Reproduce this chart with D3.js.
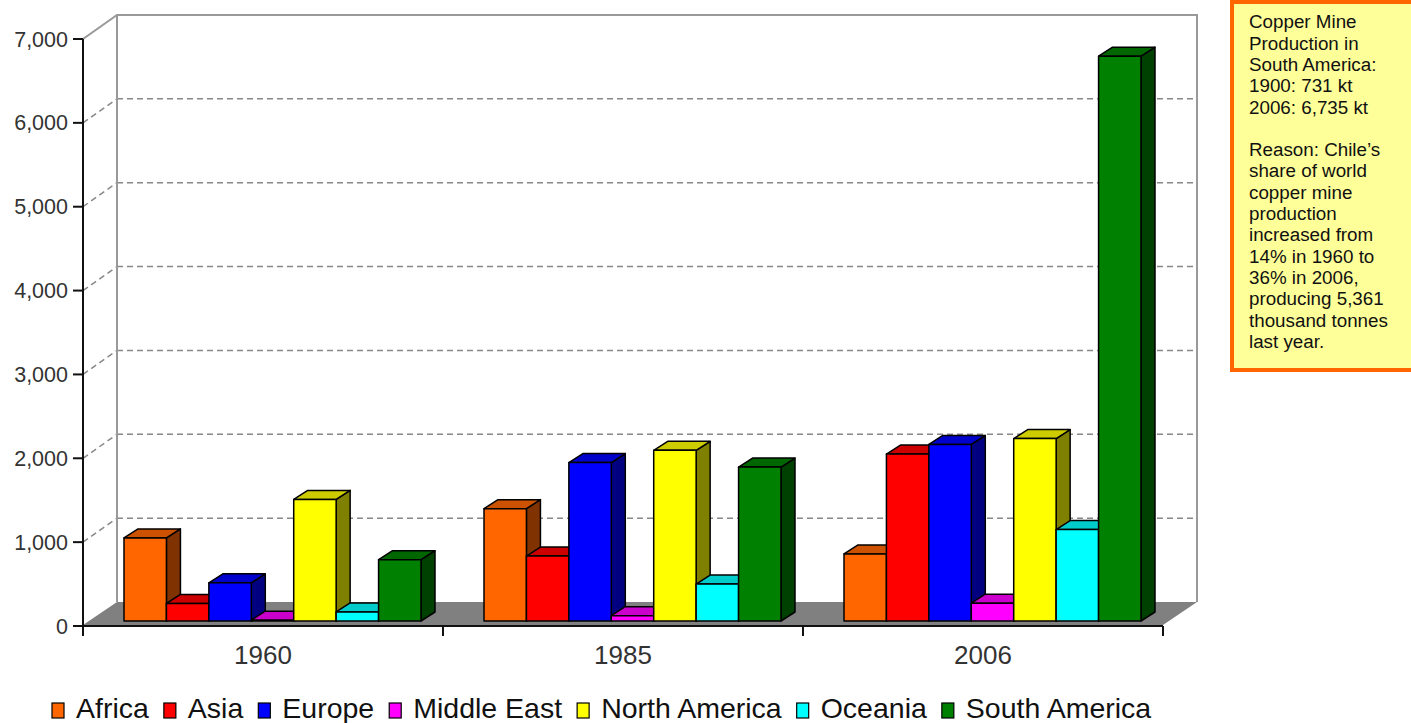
<!DOCTYPE html>
<html><head><meta charset="utf-8">
<script src="https://cdn.jsdelivr.net/npm/d3@7"></script>
<style>body{margin:0;background:#fff}svg{display:block}text{font-family:"Liberation Sans",Arial,sans-serif}</style>
</head><body>
<svg id="c" width="1411" height="723"></svg>
<script>
const categories = ["1960", "1985", "2006"];
const series = ["Africa", "Asia", "Europe", "Middle East", "North America", "Oceania", "South America"];
const colors = ["#ff6600", "#ff0000", "#0000ff", "#ff00ff", "#ffff00", "#00ffff", "#008000"];
const africa = [990, 1340, 800];
const asia = [210, 775, 1990];
const europe = [455, 1890, 2105];
const middleEast = [10, 64, 212];
const northAmerica = [1450, 2035, 2175];
const oceania = [108, 440, 1090];
const southAmerica = [731, 1835, 6735];
const seriesValues = [africa, asia, europe, middleEast, northAmerica, oceania, southAmerica];
const yTicks = [0, 1000, 2000, 3000, 4000, 5000, 6000, 7000];
const noteLines = ["Copper Mine", "Production in", "South America:", "1900: 731 kt", "2006: 6,735 kt", "",
  "Reason: Chile\u2019s", "share of world", "copper mine", "production", "increased from", "14% in 1960 to",
  "36% in 2006,", "producing 5,361", "thousand tonnes", "last year."];

const svg = d3.select("#c");
const DX = 34, DY = -24;          // wall depth
const y = d3.scaleLinear().domain([0, 7000]).range([626, 39]);
const x0 = d3.scaleBand().domain(categories).range([83, 1163]);
const x1 = d3.scaleBand().domain(series).range([41, 338]);
const bdx = 14, bdy = -9, barShiftY = -5;

// floor
svg.append("polygon")
  .attr("points", [[83, y(0) - 1], [1163, y(0) - 1], [1163 + DX, y(0) + DY], [83 + DX, y(0) + DY]].join(" "))
  .attr("fill", "#808080");

// back wall gridlines
const g = svg.append("g");
yTicks.filter(t => t > 0 && t < 7000).forEach(t => {
  g.append("line").attr("x1", 83 + DX).attr("x2", 1163 + DX).attr("y1", y(t) + DY).attr("y2", y(t) + DY)
    .attr("stroke", "#888").attr("stroke-width", 1.5).attr("stroke-dasharray", "6,4");
  g.append("line").attr("x1", 83).attr("x2", 83 + DX).attr("y1", y(t)).attr("y2", y(t) + DY)
    .attr("stroke", "#888").attr("stroke-width", 1.5).attr("stroke-dasharray", "6,4");
});
const yTop = y(7000);
g.append("path").attr("d", `M83,${yTop}L${83 + DX},${yTop + DY}L${1163 + DX},${yTop + DY}L${1163 + DX},${y(0) + DY}M${83 + DX},${yTop + DY}L${83 + DX},${y(0) + DY}`)
  .attr("fill", "none").attr("stroke", "#999").attr("stroke-width", 2);

// bars
const bw = x1.bandwidth();
function shade(c, k) { const r = d3.rgb(c); return d3.rgb(r.r * k, r.g * k, r.b * k).formatHex(); }
const bars = svg.append("g").attr("stroke", "#000").attr("stroke-width", 1.5).attr("stroke-linejoin", "round");
categories.forEach((cat, ci) => {
  series.forEach((s, si) => {
    const v = seriesValues[si][ci];
    const xl = x0(cat) + x1(s), xr = xl + bw;
    const yb = y(0) + barShiftY, yt = y(v) + barShiftY;
    const c = colors[si];
    bars.append("polygon").attr("points", [[xr, yt], [xr + bdx, yt + bdy], [xr + bdx, yb + bdy], [xr, yb]].join(" ")).attr("fill", shade(c, 0.5));
    bars.append("polygon").attr("points", [[xl, yt], [xr, yt], [xr + bdx, yt + bdy], [xl + bdx, yt + bdy]].join(" ")).attr("fill", shade(c, 0.8));
    bars.append("rect").attr("x", xl).attr("y", yt).attr("width", bw).attr("height", yb - yt).attr("fill", c);
  });
});

// front axes
svg.append("line").attr("x1", 83).attr("x2", 83).attr("y1", yTop).attr("y2", 636).attr("stroke", "#111").attr("stroke-width", 2);
svg.append("line").attr("x1", 83).attr("x2", 1163).attr("y1", y(0)).attr("y2", y(0)).attr("stroke", "#111").attr("stroke-width", 2);
yTicks.forEach(t => {
  svg.append("line").attr("x1", 73).attr("x2", 83).attr("y1", y(t)).attr("y2", y(t)).attr("stroke", "#111").attr("stroke-width", 2);
  svg.append("text").attr("x", 68).attr("y", y(t) + 7.5).attr("text-anchor", "end")
    .attr("font-size", 21.5).attr("fill", "#333").text(d3.format(",")(t));
});
[...categories.map(c => x0(c)), 1163].forEach(xx => {
  svg.append("line").attr("x1", xx).attr("x2", xx).attr("y1", y(0)).attr("y2", 636).attr("stroke", "#111").attr("stroke-width", 2);
});
categories.forEach(c => {
  svg.append("text").attr("x", x0(c) + x0.bandwidth() / 2).attr("y", 664).attr("text-anchor", "middle")
    .attr("font-size", 26).attr("fill", "#333").text(c);
});

// legend
let lx = 52;
const lg = svg.append("g");
series.forEach((s, i) => {
  lg.append("rect").attr("x", lx).attr("y", 703).attr("width", 12).attr("height", 15)
    .attr("fill", colors[i]).attr("stroke", "#000").attr("stroke-width", 1.2);
  const t = lg.append("text").attr("x", lx + 24).attr("y", 718).attr("font-size", 28.5).attr("fill", "#111").text(s);
  lx += 24 + t.node().getComputedTextLength() + 15;
});

// note box
svg.append("rect").attr("x", 1232).attr("y", 2).attr("width", 200).attr("height", 368)
  .attr("fill", "#ffff99").attr("stroke", "#ff6600").attr("stroke-width", 4);
const nt = svg.append("text").attr("font-size", 18.8).attr("fill", "#111");
noteLines.forEach((l, i) => {
  nt.append("tspan").attr("x", 1249).attr("y", 28.3 + i * 21.3).text(l);
});
</script>
</body></html>
